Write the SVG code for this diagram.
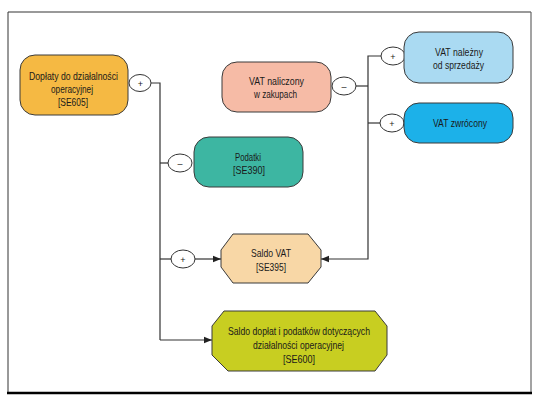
<svg xmlns="http://www.w3.org/2000/svg" width="543" height="404" viewBox="0 0 543 404">
<defs>
<marker id="arr" viewBox="0 0 10 10" refX="10" refY="5" markerWidth="8" markerHeight="8" markerUnits="userSpaceOnUse" orient="auto">
<path d="M0,1 L10,5 L0,9 Z" fill="#222"/>
</marker>
</defs>
<style>
.t{font-family:"Liberation Sans",Arial,sans-serif;font-size:10.5px;fill:#1a1a1a;text-anchor:middle}
.n{stroke:#3a3a3a;stroke-width:1}
.c{fill:#fff;stroke:#333;stroke-width:1}
.l{fill:none;stroke:#333;stroke-width:1.2}
.s{font-family:"Liberation Sans",sans-serif;font-size:9px;fill:#222;text-anchor:middle}
</style>
<rect width="543" height="404" fill="#fff"/>
<g id="frame">
<line x1="8" y1="12" x2="531" y2="12" stroke="#777" stroke-width="1.5"/>
<line x1="8" y1="12" x2="8" y2="393" stroke="#333" stroke-width="1"/>
<line x1="531" y1="12" x2="531" y2="393" stroke="#666" stroke-width="1.2"/>
<line x1="7" y1="393" x2="532" y2="393" stroke="#000" stroke-width="2.5"/>
</g>
<g id="connectors">
<path class="l" d="M151,83 H160 V340"/>
<path class="l" d="M160,163 H168"/>
<path class="l" d="M160,259 H171"/>
<path class="l" d="M195,259 H221" marker-end="url(#arr)"/>
<path class="l" d="M160,340 H212" marker-end="url(#arr)"/>
<path class="l" d="M356,86 H368"/>
<path class="l" d="M381,56 H368 V259 H321" marker-end="url(#arr)"/>
<path class="l" d="M368,123 H380"/>
<ellipse class="c" cx="140" cy="83" rx="11" ry="8.5"/>
<text class="s" x="140.5" y="86.5">+</text>
<ellipse class="c" cx="180" cy="163" rx="12" ry="9"/>
<text class="s" x="180" y="166.5">–</text>
<ellipse class="c" cx="183" cy="259" rx="12" ry="9"/>
<text class="s" x="183" y="262.5">+</text>
<ellipse class="c" cx="344" cy="86" rx="12" ry="9"/>
<text class="s" x="344" y="89.5">–</text>
<ellipse class="c" cx="393" cy="56" rx="12" ry="9"/>
<text class="s" x="393" y="59.5">+</text>
<ellipse class="c" cx="392" cy="123" rx="12" ry="9"/>
<text class="s" x="392" y="126.5">+</text>
</g>
<g id="n-se605">
<rect class="n" x="20" y="55" width="108" height="60" rx="15" fill="#F5B943"/>
<text class="t" x="73.5" y="80" textLength="89" lengthAdjust="spacingAndGlyphs">Dopłaty do działalności</text>
<text class="t" x="72" y="93" textLength="42" lengthAdjust="spacingAndGlyphs">operacyjnej</text>
<text class="t" x="73" y="106" textLength="30" lengthAdjust="spacingAndGlyphs">[SE605]</text>
</g>
<g id="n-se390">
<rect class="n" x="194" y="137" width="109" height="50" rx="15" fill="#3DB6A2"/>
<text class="t" x="248" y="161" textLength="26" lengthAdjust="spacingAndGlyphs">Podatki</text>
<text class="t" x="249" y="174" textLength="32" lengthAdjust="spacingAndGlyphs">[SE390]</text>
</g>
<g id="n-vatnal">
<rect class="n" x="222" y="62" width="109" height="50" rx="15" fill="#F6BBA6"/>
<text class="t" x="276.5" y="85" textLength="55" lengthAdjust="spacingAndGlyphs">VAT naliczony</text>
<text class="t" x="275.5" y="98" textLength="43" lengthAdjust="spacingAndGlyphs">w zakupach</text>
</g>
<g id="n-vatnalezny">
<rect class="n" x="404" y="32" width="109" height="51" rx="15" fill="#AADAF2"/>
<text class="t" x="459" y="56" textLength="48" lengthAdjust="spacingAndGlyphs">VAT należny</text>
<text class="t" x="458.5" y="69" textLength="51" lengthAdjust="spacingAndGlyphs">od sprzedaży</text>
</g>
<g id="n-vatzwr">
<rect class="n" x="404" y="103" width="109" height="40" rx="15" fill="#1CB1E9"/>
<text class="t" x="460" y="127" textLength="54" lengthAdjust="spacingAndGlyphs">VAT zwrócony</text>
</g>
<g id="n-se395">
<polygon class="n" points="233,234 308,234 321,250 321,267 308,283 233,283 221,267 221,250" fill="#F8D7A6"/>
<text class="t" x="271" y="257" textLength="40" lengthAdjust="spacingAndGlyphs">Saldo VAT</text>
<text class="t" x="271" y="271" textLength="30" lengthAdjust="spacingAndGlyphs">[SE395]</text>
</g>
<g id="n-se600">
<polygon class="n" points="224,311 375,311 387,326 387,355 375,371 228,371 212,355 212,326" fill="#C8CE21"/>
<text class="t" x="299" y="335" textLength="142" lengthAdjust="spacingAndGlyphs">Saldo dopłat i podatków dotyczących</text>
<text class="t" x="298.5" y="349" textLength="91" lengthAdjust="spacingAndGlyphs">działalności operacyjnej</text>
<text class="t" x="299" y="363" textLength="32" lengthAdjust="spacingAndGlyphs">[SE600]</text>
</g>
</svg>
